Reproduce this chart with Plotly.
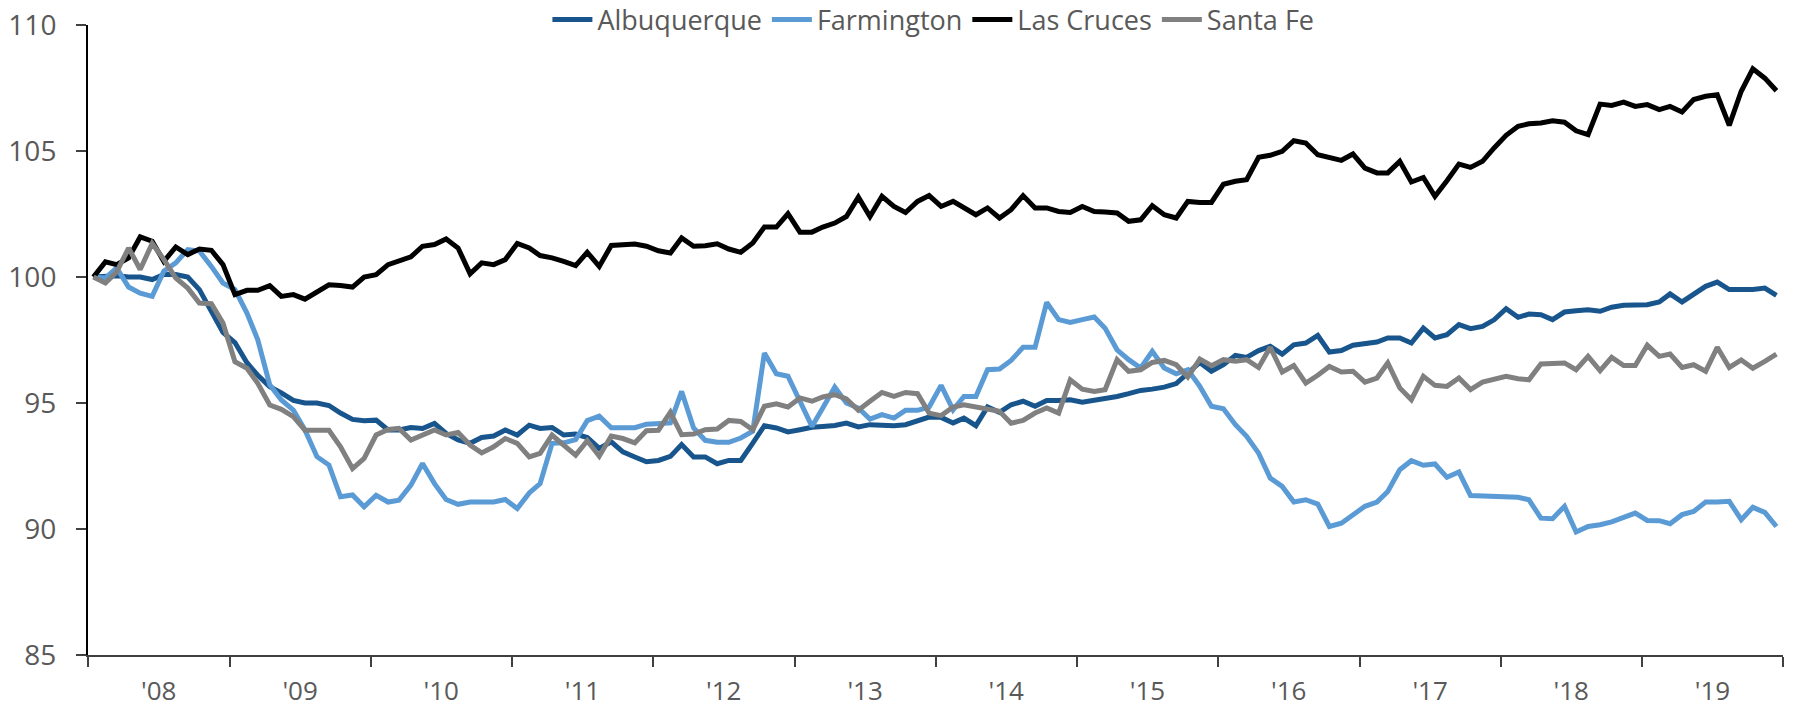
import pandas as pd
import plotly.graph_objects as go

# Monthly index values, Jan 2008 - Dec 2019
months = pd.date_range("2008-01-01", periods=144, freq="MS") + pd.Timedelta(days=14)

albuquerque = [
    100.0, 100.05, 100.05, 100.0, 100.0, 99.9, 100.1, 100.1, 100.0, 99.5, 98.6, 97.8,
    97.4, 96.6, 96.1, 95.65, 95.4, 95.1, 95.0, 95.0, 94.9, 94.6, 94.35, 94.3,
    94.32, 93.93, 93.93, 94.03, 93.99, 94.19, 93.79, 93.53, 93.4, 93.63, 93.69, 93.93,
    93.73, 94.12, 93.99, 94.03, 93.73, 93.77, 93.63, 93.2, 93.46, 93.06, 92.86, 92.67,
    92.72, 92.88, 93.35, 92.86, 92.86, 92.59, 92.72, 92.72, 93.41, 94.1, 94.01, 93.85,
    93.94, 94.04, 94.07, 94.11, 94.2, 94.05, 94.14, 94.1, 94.1, 94.14, 94.27, 94.44,
    94.43, 94.21, 94.4, 94.1, 94.84, 94.63, 94.93, 95.07, 94.87, 95.1, 95.1, 95.13,
    95.03, 95.1, 95.16, 95.26, 95.37, 95.5, 95.55, 95.63, 95.77, 96.16, 96.61, 96.26,
    96.52, 96.89, 96.81, 97.08, 97.25, 96.94, 97.31, 97.38, 97.68, 97.02, 97.08, 97.29,
    97.38, 97.42, 97.58, 97.58, 97.38, 97.97, 97.58, 97.71, 98.11, 97.95, 98.04, 98.3,
    98.74, 98.4, 98.53, 98.5, 98.31, 98.61, 98.66, 98.7, 98.64, 98.8, 98.88, 98.88,
    98.9, 99.01, 99.33, 99.01, 99.33, 99.63, 99.8, 99.5, 99.5, 99.5, 99.56, 99.27,
]

farmington = [
    100.0, 99.96, 100.36, 99.6, 99.36, 99.23, 100.23, 100.56, 101.09, 101.03, 100.42, 99.76,
    99.5, 98.57, 97.51, 95.72, 95.12, 94.72, 93.93, 92.87, 92.54, 91.28, 91.35, 90.88,
    91.34, 91.07, 91.14, 91.74, 92.6, 91.8, 91.17, 90.98, 91.07, 91.07, 91.07, 91.17,
    90.81, 91.43, 91.8, 93.4, 93.42, 93.55, 94.3, 94.48, 94.02, 94.02, 94.02, 94.16,
    94.18, 94.21, 95.46, 94.01, 93.52, 93.44, 93.44, 93.61, 93.88, 96.98, 96.16, 96.06,
    95.07, 94.07, 94.8, 95.63, 95.0, 94.8, 94.36, 94.54, 94.4, 94.71, 94.71, 94.84,
    95.7, 94.73, 95.26, 95.26, 96.32, 96.35, 96.69, 97.21, 97.21, 98.99, 98.31, 98.2,
    98.31, 98.41, 97.97, 97.11, 96.72, 96.39, 97.05, 96.39, 96.16, 96.32, 95.66, 94.87,
    94.77, 94.14, 93.68, 93.01, 92.02, 91.69, 91.07, 91.16, 90.99, 90.1, 90.23, 90.59,
    90.9, 91.07, 91.49, 92.35, 92.71, 92.53, 92.58, 92.05, 92.26, 91.33, 91.32, 91.32,
    91.29, 91.26, 91.16, 90.43, 90.41, 90.9, 89.88, 90.1, 90.17, 90.28, 90.46, 90.63,
    90.34, 90.33, 90.21, 90.57, 90.7, 91.07, 91.07, 91.1, 90.37, 90.86, 90.66, 90.1,
]

las_cruces = [
    100.0, 100.6, 100.49, 100.76, 101.59, 101.42, 100.62, 101.19, 100.89, 101.11, 101.06, 100.49,
    99.3, 99.47, 99.47, 99.66, 99.23, 99.3, 99.12, 99.43, 99.69, 99.66, 99.6, 100.0,
    100.09, 100.49, 100.62, 100.8, 101.22, 101.29, 101.51, 101.15, 100.13, 100.56, 100.49, 100.69,
    101.33, 101.15, 100.85, 100.76, 100.62, 100.45, 100.98, 100.42, 101.25, 101.29, 101.31, 101.22,
    101.04, 100.95, 101.55, 101.22, 101.24, 101.32, 101.11, 100.98, 101.35, 101.98, 101.98, 102.51,
    101.78, 101.78, 101.98, 102.14, 102.4, 103.17, 102.4, 103.2, 102.8, 102.56, 103.0, 103.23,
    102.8, 103.0, 102.74, 102.47, 102.74, 102.34, 102.67, 103.23, 102.74, 102.74, 102.6, 102.56,
    102.8, 102.6, 102.58, 102.54, 102.21, 102.27, 102.83, 102.47, 102.34, 103.0, 102.96, 102.96,
    103.68, 103.8, 103.86, 104.75, 104.83, 104.99, 105.41, 105.32, 104.85, 104.76, 104.63, 104.88,
    104.32, 104.13, 104.13, 104.59, 103.77, 103.95, 103.2, 103.82, 104.48, 104.35, 104.59, 105.12,
    105.62, 105.98, 106.08, 106.11, 106.2, 106.14, 105.8, 105.65, 106.86, 106.81, 106.94, 106.77,
    106.84, 106.64, 106.77, 106.55, 107.04, 107.17, 107.23, 106.02, 107.37, 108.26, 107.89, 107.39,
]

santa_fe = [
    100.0, 99.76, 100.2, 101.15, 100.3, 101.33, 100.7, 99.96, 99.56, 98.97, 98.94, 98.17,
    96.64, 96.38, 95.78, 94.92, 94.75, 94.46, 93.92, 93.92, 93.92, 93.26, 92.4, 92.8,
    93.73, 93.95, 93.99, 93.53, 93.73, 93.93, 93.73, 93.83, 93.33, 93.02, 93.26, 93.59,
    93.4, 92.86, 93.0, 93.73, 93.33, 92.93, 93.5, 92.89, 93.69, 93.59, 93.42, 93.9,
    93.92, 94.63, 93.74, 93.77, 93.94, 93.97, 94.31, 94.27, 93.94, 94.87, 94.97, 94.84,
    95.2, 95.07, 95.24, 95.33, 95.16, 94.71, 95.07, 95.42, 95.26, 95.42, 95.37, 94.6,
    94.5, 94.84, 94.93, 94.84, 94.71, 94.67, 94.2, 94.31, 94.6, 94.8, 94.6, 95.92,
    95.55, 95.46, 95.53, 96.72, 96.26, 96.32, 96.61, 96.69, 96.52, 96.03, 96.74, 96.48,
    96.72, 96.66, 96.72, 96.41, 97.21, 96.23, 96.49, 95.79, 96.1, 96.45, 96.23, 96.26,
    95.83, 95.99, 96.59, 95.6, 95.13, 96.06, 95.7, 95.66, 95.99, 95.53, 95.83, 95.93,
    96.06, 95.96, 95.92, 96.55, 96.55, 96.59, 96.32, 96.85, 96.28, 96.81, 96.49, 96.49,
    97.29, 96.85, 96.94, 96.41, 96.52, 96.26, 97.21, 96.41, 96.71, 96.38, 96.65, 96.94,
]

series = [
    ("Albuquerque", albuquerque, "#18558C"),
    ("Farmington", farmington, "#5B9BD5"),
    ("Las Cruces", las_cruces, "#000000"),
    ("Santa Fe", santa_fe, "#808080"),
]

y_ticks = [85, 90, 95, 100, 105, 110]
FONT = "Open Sans"
TXT = "#595959"

fig = go.Figure()
for name, vals, color in series:
    fig.add_trace(go.Scatter(
        x=months, y=vals, name=name, mode="lines",
        line=dict(color=color, width=5),
    ))

fig.update_layout(
    width=1795, height=711,
    margin=dict(l=88, r=12, t=25, b=56, autoexpand=False),
    paper_bgcolor="white", plot_bgcolor="white",
    font=dict(family=FONT, size=28, color=TXT),
    showlegend=True,
    legend=dict(
        orientation="h", xref="container", yref="paper",
        x=0.52, xanchor="center", y=1.008, yanchor="middle",
        font=dict(family=FONT, size=27, color=TXT),
        bgcolor="rgba(0,0,0,0)", itemwidth=40, tracegroupgap=0,
    ),
    xaxis=dict(
        type="date",
        range=["2008-01-01", "2020-01-01"],
        tick0="2008-01-01", dtick="M12",
        tickformat="'%y", ticklabelmode="period",
        ticks="outside", ticklen=10, tickwidth=2, tickcolor="#404040",
        showline=True, linecolor="#404040", linewidth=2,
        showgrid=False, zeroline=False,
        ticklabelstandoff=2,
        tickfont=dict(family=FONT, size=26, color=TXT),
    ),
    yaxis=dict(
        range=[85, 110], tickvals=y_ticks,
        ticks="outside", ticklen=10, tickwidth=2, tickcolor="#404040",
        showline=True, linecolor="#000000", linewidth=2,
        showgrid=False, zeroline=False,
        ticklabelstandoff=14,
        tickfont=dict(family=FONT, size=28, color=TXT),
    ),
)

fig.write_html("out.html", config={"displayModeBar": False},
               post_script="document.body.style.margin='0';")
